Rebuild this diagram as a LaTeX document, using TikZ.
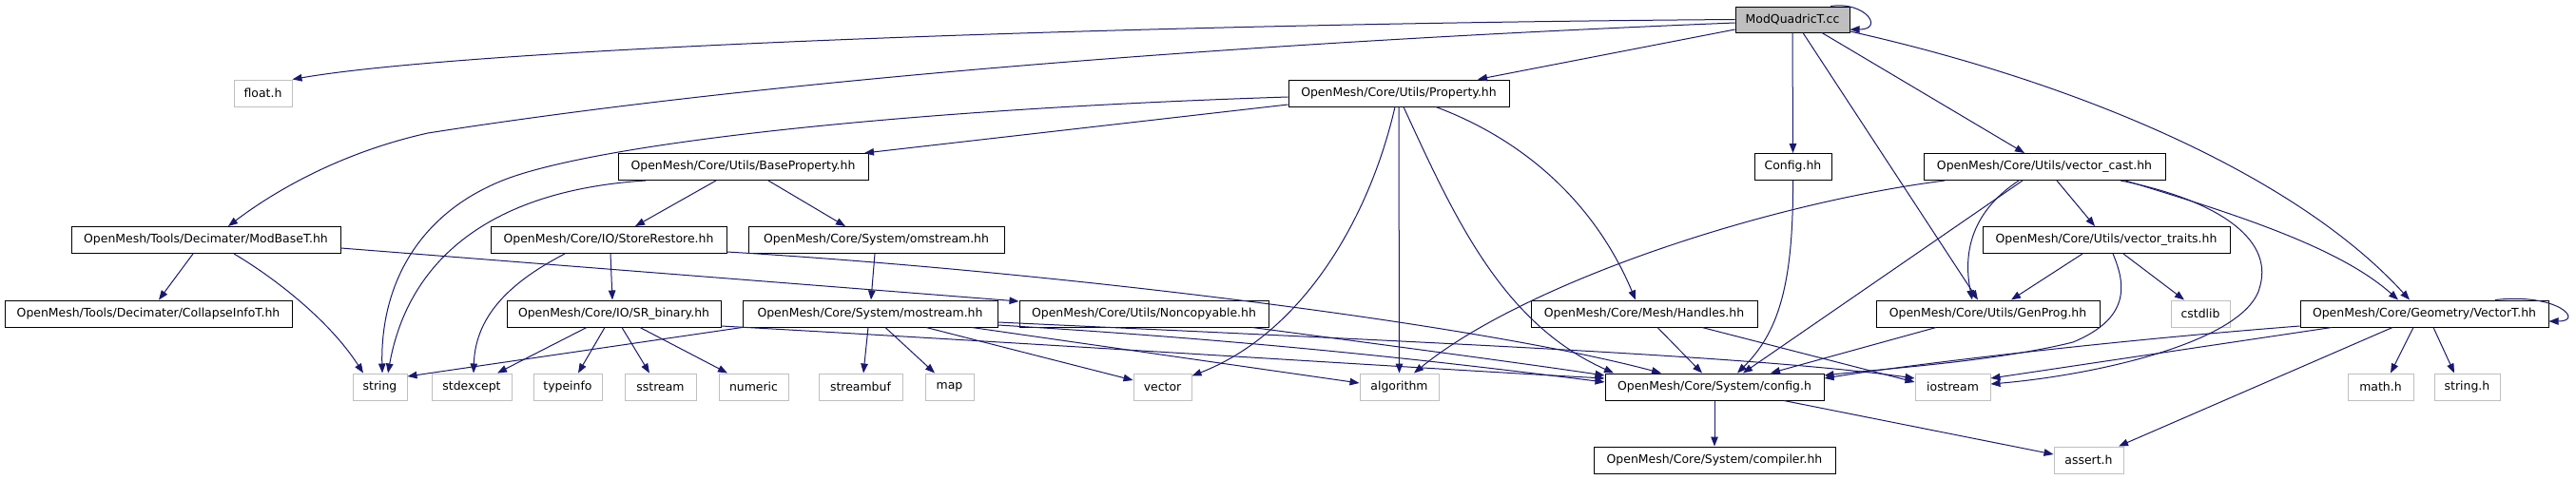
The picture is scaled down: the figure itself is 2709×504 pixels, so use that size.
\documentclass[tikz,border=0pt]{standalone}
\usepackage{fontspec}
\setmainfont{DejaVu Sans}
\usetikzlibrary{arrows.meta}
\definecolor{edgeblue}{HTML}{191970}
\definecolor{extgray}{HTML}{BFBFBF}
\definecolor{srcgray}{HTML}{BFBFBF}
\newcommand{\lab}{\fontsize{12.45}{15}\selectfont}
\tikzset{
  ibox/.style={draw=black, fill=white, line width=1pt, inner sep=0pt, minimum height=28pt, font=\lab},
  ebox/.style={draw=extgray, fill=white, line width=1pt, inner sep=0pt, minimum height=28pt, font=\lab},
  sbox/.style={draw=black, fill=srcgray, line width=1pt, inner sep=0pt, minimum height=27pt, font=\lab},
  edge/.style={draw=edgeblue, line width=1pt, -{Triangle[length=10pt,width=7.5pt]}, fill=none}
}
\begin{document}
\begin{tikzpicture}[x=1pt,y=-1pt]
\fill[white] (0,0) rectangle (2709,504);
\useasboundingbox (0,0) rectangle (2709,504);
% row 1
\node[sbox, minimum width=120pt] (mq) at (1885,20.5) {ModQuadricT.cc};
% row 2
\node[ebox, minimum width=61pt] (float) at (276.5,98) {float.h};
\node[ibox, minimum width=232pt] (prop) at (1471,98) {OpenMesh/Core/Utils/Property.hh};
% row 3
\node[ibox, minimum width=263pt] (bprop) at (781.5,175.5) {OpenMesh/Core/Utils/BaseProperty.hh};
\node[ibox, minimum width=81pt] (cfg) at (1885.5,175.5) {Config.hh};
\node[ibox, minimum width=254pt] (vcast) at (2150,175.5) {OpenMesh/Core/Utils/vector\_cast.hh};
% row 4
\node[ibox, minimum width=283pt] (mbase) at (216.5,252.5) {OpenMesh/Tools/Decimater/ModBaseT.hh};
\node[ibox, minimum width=248pt] (sr) at (640,252.5) {OpenMesh/Core/IO/StoreRestore.hh};
\node[ibox, minimum width=269pt] (oms) at (921.5,252.5) {OpenMesh/Core/System/omstream.hh};
\node[ibox, minimum width=260pt] (vtraits) at (2215,252.5) {OpenMesh/Core/Utils/vector\_traits.hh};
% row 5
\node[ibox, minimum width=302pt] (coll) at (156,330) {OpenMesh/Tools/Decimater/CollapseInfoT.hh};
\node[ibox, minimum width=225pt] (srb) at (645.5,330) {OpenMesh/Core/IO/SR\_binary.hh};
\node[ibox, minimum width=268pt] (most) at (915,330) {OpenMesh/Core/System/mostream.hh};
\node[ibox, minimum width=262pt] (nonc) at (1203,330) {OpenMesh/Core/Utils/Noncopyable.hh};
\node[ibox, minimum width=238pt] (hand) at (1729,330) {OpenMesh/Core/Mesh/Handles.hh};
\node[ibox, minimum width=235pt] (genp) at (2090.5,330) {OpenMesh/Core/Utils/GenProg.hh};
\node[ebox, minimum width=62pt] (cstd) at (2314,330) {cstdlib};
\node[ibox, minimum width=261pt] (vect) at (2549.5,330) {OpenMesh/Core/Geometry/VectorT.hh};
% row 6
\node[ebox, minimum width=57pt] (string) at (399.5,407) {string};
\node[ebox, minimum width=84pt] (stdexc) at (496,407) {stdexcept};
\node[ebox, minimum width=72pt] (typeinfo) at (597,407) {typeinfo};
\node[ebox, minimum width=75pt] (sstream) at (694.5,407) {sstream};
\node[ebox, minimum width=73pt] (numeric) at (792.5,407) {numeric};
\node[ebox, minimum width=88pt] (streambuf) at (905,407) {streambuf};
\node[ebox, minimum width=51pt] (map) at (998.5,407) {map};
\node[ebox, minimum width=61pt] (vector) at (1222.5,407) {vector};
\node[ebox, minimum width=83pt] (algorithm) at (1471.5,407) {algorithm};
\node[ibox, minimum width=230pt] (configh) at (1803,407) {OpenMesh/Core/System/config.h};
\node[ebox, minimum width=79pt] (iostream) at (2053.5,407) {iostream};
\node[ebox, minimum width=69pt] (math) at (2503.5,407) {math.h};
\node[ebox, minimum width=69pt] (stringh) at (2594.5,407) {string.h};
% row 7
\node[ibox, minimum width=254pt] (compiler) at (1803,484) {OpenMesh/Core/System/compiler.hh};
\node[ebox, minimum width=73pt] (assert) at (2196.5,484) {assert.h};

% ---- edges from ModQuadricT.cc
\draw[edge] (mq.west) .. controls (1200,25) and (500,50) .. (float.north east);
\draw[edge] ([yshift=-3.5pt]mq.west) .. controls (1300,45) and (800,85) .. (450,140) .. controls (360,160) and (290,200) .. ([xshift=23.5pt]mbase.north);
\draw[edge] ([yshift=-10.5pt]mq.west) -- ([xshift=83pt]prop.north);
\draw[edge] (mq.south) -- (cfg.north);
\draw[edge] ([xshift=11pt]mq.south) -- ([xshift=-10.5pt]genp.north);
\draw[edge] ([xshift=31pt]mq.south) -- ([xshift=-21pt]vcast.north);
\draw[edge] ([yshift=-12.5pt]mq.east) .. controls (2200,90) and (2420,190) .. ([xshift=-15.5pt]vect.north);
\draw[edge] ([xshift=40pt]mq.north) .. controls (1962,1) and (1982,31) .. ([yshift=-10.5pt]mq.east);
% ---- Property.hh
\draw[edge] ([yshift=-12pt]prop.west) -- ([xshift=127.5pt]bprop.north);
\draw[edge] ([yshift=-4pt]prop.west) .. controls (950,115) and (640,150) .. (536,187) .. controls (440,222) and (400,300) .. ([xshift=2.5pt]string.north);
\draw[edge] ([xshift=-4pt]prop.south) .. controls (1440,230) and (1370,350) .. ([yshift=-3pt]vector.north east);
\draw[edge] (prop.south) -- (algorithm.north);
\draw[edge] ([xshift=5pt]prop.south) .. controls (1530,230) and (1580,340) .. ([xshift=-106pt]configh.north);
\draw[edge] ([xshift=39pt]prop.south) .. controls (1610,150) and (1680,220) .. ([xshift=-9pt]hand.north);
% ---- BaseProperty.hh
\draw[edge] ([xshift=-102.5pt]bprop.south) .. controls (520,200) and (430,270) .. ([xshift=8.5pt]string.north);
\draw[edge] ([xshift=-28.5pt]bprop.south) -- ([xshift=28pt]sr.north);
\draw[edge] ([xshift=26.5pt]bprop.south) -- ([xshift=-32.5pt]oms.north);
% ---- ModBaseT.hh
\draw[edge] ([xshift=-13.5pt]mbase.south) -- ([xshift=11pt]coll.north);
\draw[edge] ([xshift=29.5pt]mbase.south) .. controls (285,290) and (345,335) .. ([xshift=-17.5pt]string.north);
\draw[edge] ([yshift=-8.5pt]mbase.east) -- ([yshift=13pt]nonc.west);
% ---- StoreRestore.hh
\draw[edge] ([xshift=2pt]sr.south) -- ([xshift=-1.5pt]srb.north);
\draw[edge] ([xshift=-46pt]sr.south) .. controls (540,295) and (500,330) .. ([xshift=2pt]stdexc.north);
\draw[edge] ([yshift=-12.5pt]sr.east) .. controls (1100,285) and (1550,340) .. ([xshift=-56pt]configh.north);
% ---- omstream.hh
\draw[edge] ([xshift=-1.5pt]oms.south) -- ([xshift=1pt]most.north);
% ---- SR_binary.hh
\draw[edge] ([xshift=-28.5pt]srb.south) -- ([xshift=27pt]stdexc.north);
\draw[edge] ([xshift=-9.5pt]srb.south) -- ([xshift=11pt]typeinfo.north);
\draw[edge] ([xshift=8.5pt]srb.south) -- ([xshift=-11.5pt]sstream.north);
\draw[edge] ([xshift=27.5pt]srb.south) -- ([xshift=-27.5pt]numeric.north);
\draw[edge] ([yshift=-13pt]srb.east) .. controls (1100,362) and (1500,388) .. ([yshift=9pt]configh.west);
% ---- mostream.hh
\draw[edge] (most.south west) -- ([yshift=11pt]string.east);
\draw[edge] ([xshift=-2pt]most.south) -- ([xshift=3pt]streambuf.north);
\draw[edge] ([xshift=16pt]most.south) -- ([xshift=-15.5pt]map.north);
\draw[edge] ([xshift=59pt]most.south) -- ([yshift=7pt]vector.west);
\draw[edge] ([xshift=107pt]most.south) -- ([yshift=4pt]algorithm.west);
\draw[edge] ([yshift=-12pt]most.east) .. controls (1350,360) and (1550,385) .. ([yshift=5pt]configh.west);
\draw[edge] ([yshift=-9pt]most.east) .. controls (1500,360) and (1850,375) .. ([yshift=9pt]iostream.west);
% ---- Noncopyable.hh
\draw[edge] ([xshift=114pt]nonc.south) .. controls (1450,362) and (1600,382) .. ([yshift=12pt]configh.west);
% ---- Handles.hh
\draw[edge] ([xshift=14pt]hand.south) -- ([xshift=-13pt]configh.north);
\draw[edge] ([xshift=61pt]hand.south) -- ([yshift=5pt]iostream.west);
% ---- Config.hh
\draw[edge] (cfg.south) .. controls (1886,300) and (1870,350) .. ([xshift=24pt]configh.north);
% ---- vector_cast.hh
\draw[edge] ([xshift=-105pt]vcast.south) .. controls (1850,215) and (1600,300) .. ([xshift=15.5pt]algorithm.north);
\draw[edge] ([xshift=-23pt]vcast.south) -- ([xshift=30pt]configh.north);
\draw[edge] ([xshift=-27pt]vcast.south) .. controls (2070,225) and (2065,270) .. ([xshift=-16.5pt]genp.north);
\draw[edge] ([xshift=13pt]vcast.south) -- ([xshift=-12pt]vtraits.north);
\draw[edge] ([xshift=80pt]vcast.south) .. controls (2330,210) and (2390,250) .. (2377,300) .. controls (2365,360) and (2200,395) .. ([yshift=3pt]iostream.east);
\draw[edge] ([xshift=85pt]vcast.south) .. controls (2350,225) and (2460,260) .. ([xshift=-27.5pt]vect.north);
% ---- vector_traits.hh
\draw[edge] ([xshift=-25pt]vtraits.south) -- ([xshift=24.5pt]genp.north);
\draw[edge] ([xshift=18pt]vtraits.south) -- ([xshift=-17pt]cstd.north);
\draw[edge] ([xshift=7pt]vtraits.south) .. controls (2236,300) and (2240,335) .. (2180,360) .. controls (2100,380) and (1980,388) .. ([yshift=12pt]configh.east);
% ---- GenProg.hh
\draw[edge] ([xshift=-54.5pt]genp.south) -- ([xshift=59pt]configh.north);
% ---- VectorT.hh
\draw[edge] ([yshift=-13pt]vect.west) .. controls (2200,360) and (2000,385) .. ([yshift=9pt]configh.east);
\draw[edge] ([xshift=-97.5pt]vect.south) -- ([yshift=9pt]iostream.east);
\draw[edge] ([xshift=-33.5pt]vect.south) -- ([xshift=31.5pt]assert.north);
\draw[edge] ([xshift=-11.5pt]vect.south) -- ([xshift=10.5pt]math.north);
\draw[edge] ([xshift=9.5pt]vect.south) -- ([xshift=-13.5pt]stringh.north);
\draw[edge] ([xshift=74.5pt]vect.north) .. controls (2690,308) and (2718,338) .. ([yshift=-8pt]vect.east);
% ---- config.h
\draw[edge] (configh.south) -- (compiler.north);
\draw[edge] ([xshift=73pt]configh.south) -- ([yshift=6pt]assert.west);
\end{tikzpicture}
\end{document}
